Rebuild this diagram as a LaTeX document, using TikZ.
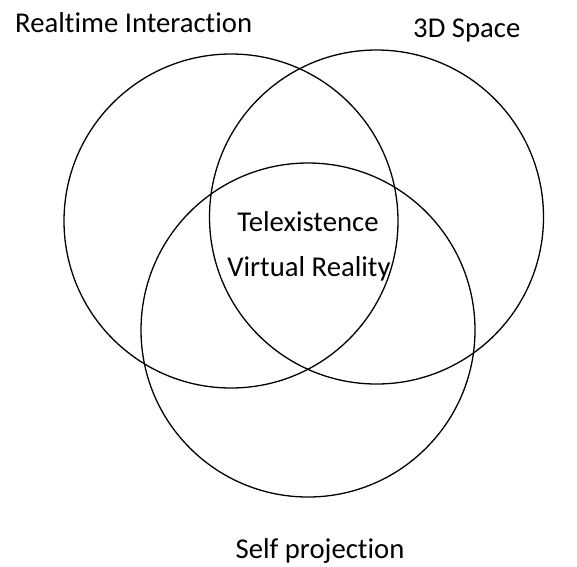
\documentclass[tikz,border=0pt]{standalone}
\usepackage{fontspec}
\setmainfont{Carlito}[Ligatures={NoCommon}]
\begin{document}
\begin{tikzpicture}[x=1pt,y=-1pt,
  setring/.style={circle, draw=black, line width=1.3pt, minimum size=334pt, inner sep=0pt},
  label/.style={font=\fontsize{28.7}{32}\selectfont, inner sep=0pt}]
  \useasboundingbox (0,0) rectangle (577,566);
  % the three overlapping sets
  \node[setring] (rt)   at (231,221) {};
  \node[setring] (sp)   at (376.5,217) {};
  \node[setring] (self) at (308,330) {};
  % set names
  \node[label, anchor=base west] (rtlab) at (15,32) {Realtime Interaction};
  \node[label, anchor=base west] (splab) at (413,37) {3D Space};
  \node[label, anchor=base] (selflab) at (320,558) {Self projection};
  % common intersection
  \node[label, anchor=base] (tele) at (308,231) {Telexistence};
  \node[label, anchor=base] (vr) at (309,276) {Virtual Reality};
\end{tikzpicture}
\end{document}
